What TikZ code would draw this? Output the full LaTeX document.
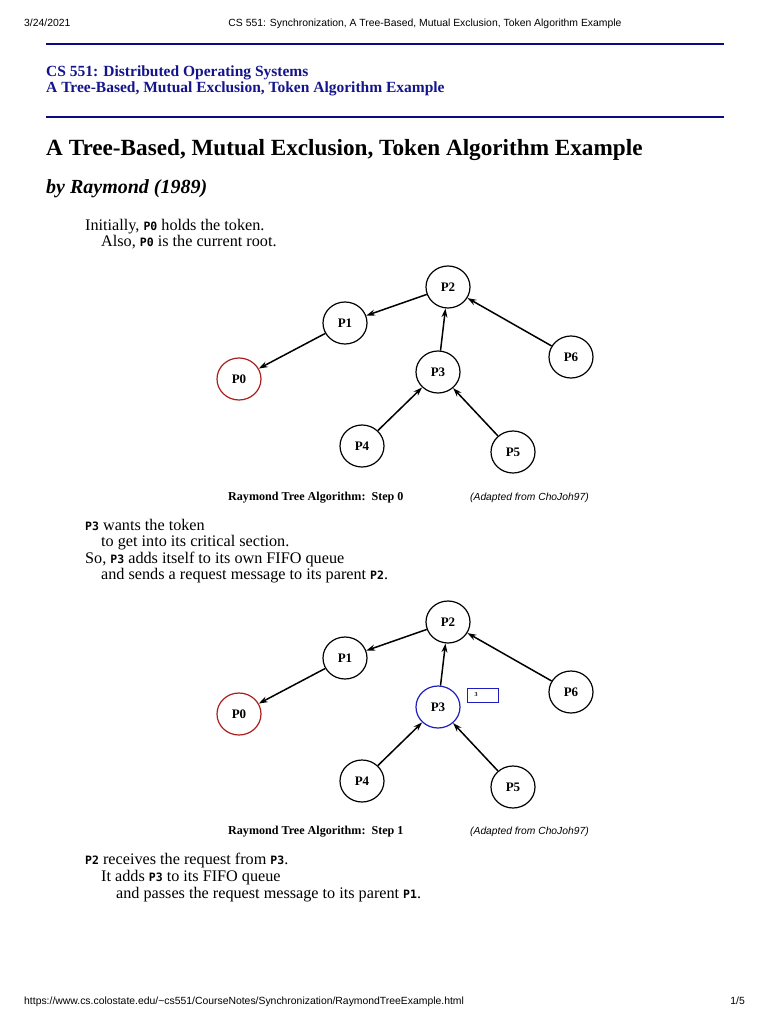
\documentclass[tikz,border=0pt]{standalone}
\usepackage{fontspec}
\setmainfont{Liberation Serif}
\setsansfont{Liberation Sans}
\newfontfamily\monobold{DejaVu Sans Mono Bold}
\usetikzlibrary{arrows.meta,shapes.geometric}
\definecolor{navy}{RGB}{10,10,130}
\definecolor{hdblue}{RGB}{20,20,140}
\definecolor{rootred}{RGB}{170,30,30}
\definecolor{reqblue}{RGB}{30,30,190}
\newcommand\pidf[1]{{\monobold\fontsize{11.5}{11.5}\selectfont #1}}
\begin{document}
\begin{tikzpicture}[x=1pt,y=-1pt,
  proc/.style={ellipse, draw, line width=1.2pt, minimum width=44pt, minimum height=42pt, inner sep=0pt,
    font=\fontsize{13}{13}\selectfont\bfseries},
  edge/.style={-{Stealth[length=9pt,width=6pt]}, line width=1.5pt},
  txt/.style={anchor=base west, inner sep=0pt, font=\fontsize{16.2}{16.2}\selectfont},
  hdr/.style={anchor=base west, inner sep=0pt, font=\sffamily\fontsize{10.4}{10.4}\selectfont},
  captxt/.style={anchor=base west, inner sep=0pt, font=\bfseries\fontsize{12.1}{12.1}\selectfont},
  adapt/.style={anchor=base west, inner sep=0pt, font=\sffamily\itshape\fontsize{10.3}{10.3}\selectfont},
  rulel/.style={navy, line width=2pt}]
\useasboundingbox (0,0) rectangle (768,1024);
\fill[white] (0,0) rectangle (768,1024);

% page header / footer
\node[hdr] (date) at (24,27) {3/24/2021};
\node[hdr, anchor=base] (ptitle) at (425,27) {CS 551: Synchronization, A Tree-Based, Mutual Exclusion, Token Algorithm Example};
\node[hdr] (url) at (24,1004) {https://www.cs.colostate.edu/\textasciitilde cs551/CourseNotes/Synchronization/RaymondTreeExample.html};
\node[hdr, anchor=base east] (pg) at (745,1004) {1/5};

% rules and heading
\coordinate (r1a) at (46,44); \coordinate (r1b) at (724,44);
\coordinate (r2a) at (46,117); \coordinate (r2b) at (724,117);
\draw[rulel] (r1a) -- (r1b);
\draw[rulel] (r2a) -- (r2b);
\node[anchor=base west, inner sep=0pt, text=hdblue, font=\bfseries\fontsize{15.5}{15.5}\selectfont] (h1) at (46,77) {CS 551: Distributed Operating Systems};
\node[anchor=base west, inner sep=0pt, text=hdblue, font=\bfseries\fontsize{15.5}{15.5}\selectfont] (h2) at (46,93) {A Tree-Based, Mutual Exclusion, Token Algorithm Example};

\node[anchor=base west, inner sep=0pt, font=\bfseries\fontsize{23.2}{23.2}\selectfont] (title) at (46,156) {A Tree-Based, Mutual Exclusion, Token Algorithm Example};
\node[anchor=base west, inner sep=0pt, font=\bfseries\itshape\fontsize{20}{20}\selectfont] (by) at (46,194) {by Raymond (1989)};

\node[txt] (t1) at (85,230) {Initially, \pidf{P0} holds the token.};
\node[txt] (t2) at (101,246) {Also, \pidf{P0} is the current root.};

% tree step 0
\node[proc] (a2) at (448,287) {P2};
\node[proc] (a1) at (345,323) {P1};
\node[proc, draw=rootred] (a0) at (239,379) {P0};
\node[proc] (a3) at (438,372) {P3};
\node[proc] (a6) at (571,357) {P6};
\node[proc] (a4) at (362,446) {P4};
\node[proc] (a5) at (513,452) {P5};
\draw[edge] (a2) -- (a1);
\draw[edge] (a1) -- (a0);
\draw[edge] (a3) -- (a2);
\draw[edge] (a6) -- (a2);
\draw[edge] (a4) -- (a3);
\draw[edge] (a5) -- (a3);
\node[captxt] (c0) at (228,500) {Raymond Tree Algorithm:\ \ Step 0};
\node[adapt] (ad0) at (470,500) {(Adapted from ChoJoh97)};

\node[txt] (u1) at (85,530) {\pidf{P3} wants the token};
\node[txt] (u2) at (101,546) {to get into its critical section.};
\node[txt] (u3) at (85,563) {So, \pidf{P3} adds itself to its own FIFO queue};
\node[txt] (u4) at (101,579) {and sends a request message to its parent \pidf{P2}.};

% tree step 1
\node[proc] (b2) at (448,622) {P2};
\node[proc] (b1) at (345,658) {P1};
\node[proc, draw=rootred] (b0) at (239,714) {P0};
\node[proc, draw=reqblue] (b3) at (438,707) {P3};
\node[proc] (b6) at (571,692) {P6};
\node[proc] (b4) at (362,781) {P4};
\node[proc] (b5) at (513,787) {P5};
\draw[edge] (b2) -- (b1);
\draw[edge] (b1) -- (b0);
\draw[edge] (b3) -- (b2);
\draw[edge] (b6) -- (b2);
\draw[edge] (b4) -- (b3);
\draw[edge] (b5) -- (b3);
\node[draw=reqblue, line width=1.2pt, minimum width=31pt, minimum height=14pt, inner sep=0pt, anchor=north west] (q3) at (467,688) {};
\node[inner sep=0pt, font=\fontsize{6}{6}\selectfont\bfseries] (q3t) at (476,695) {3};
\node[captxt] (c1) at (228,834) {Raymond Tree Algorithm:\ \ Step 1};
\node[adapt] (ad1) at (470,834) {(Adapted from ChoJoh97)};

\node[txt] (v1) at (85,864) {\pidf{P2} receives the request from \pidf{P3}.};
\node[txt] (v2) at (101,881) {It adds \pidf{P3} to its FIFO queue};
\node[txt] (v3) at (116,898) {and passes the request message to its parent \pidf{P1}.};
\end{tikzpicture}
\end{document}
